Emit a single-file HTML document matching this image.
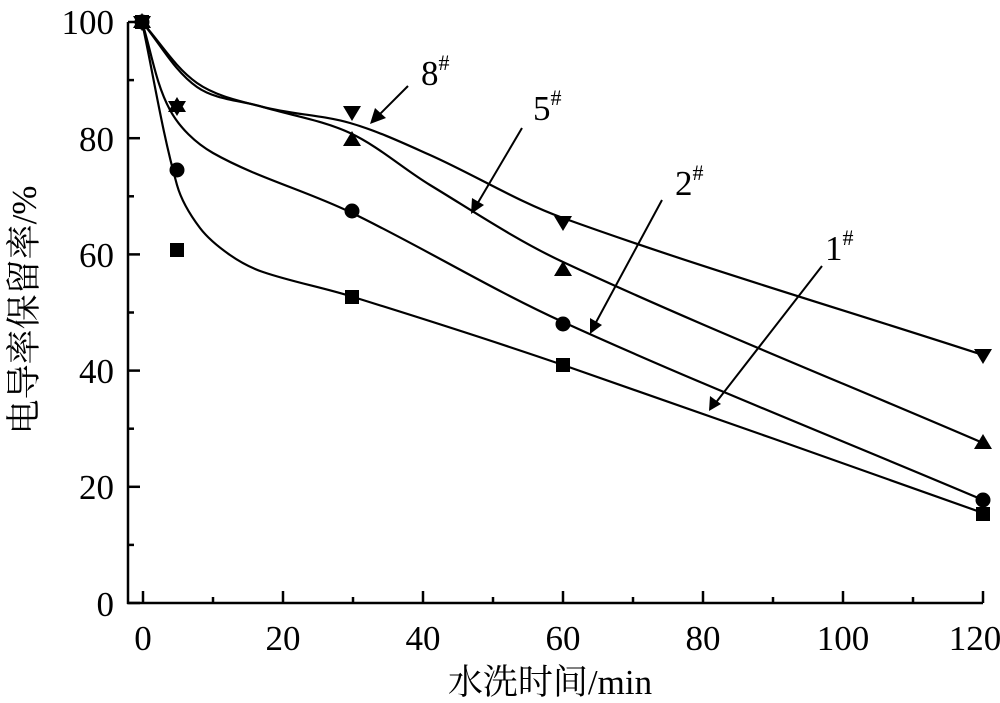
<!DOCTYPE html>
<html><head><meta charset="utf-8"><style>
html,body{margin:0;padding:0;background:#fff;}
svg{display:block;}
text{font-family:"Liberation Serif","Noto Serif CJK SC",serif;fill:#000;}
</style></head><body>
<svg id="s" width="1000" height="703" viewBox="0 0 1000 703" xmlns="http://www.w3.org/2000/svg">
<g stroke="#000" stroke-width="2.5" fill="none">
<line x1="128" y1="22" x2="128" y2="604"/>
<line x1="127" y1="603" x2="983" y2="603"/>
</g>
<g id="ticks" stroke="#000" stroke-width="2.5"></g>
<g font-size="35" text-anchor="end">
<text x="114" y="34">100</text><text x="114" y="151">80</text><text x="114" y="267">60</text>
<text x="114" y="383">40</text><text x="114" y="499">20</text><text x="114" y="616">0</text>
</g>
<g font-size="35" text-anchor="middle">
<text x="143" y="650">0</text><text x="283" y="650">20</text><text x="423" y="650">40</text>
<text x="563" y="650">60</text><text x="703" y="650">80</text><text x="843" y="650">100</text><text x="975" y="650">120</text>
</g>
<text x="550" y="694" font-size="35" text-anchor="middle">水洗时间/min</text>
<text transform="translate(36,310) rotate(-90)" font-size="35" text-anchor="middle">电导率保留率/%</text>
<g id="curves" stroke="#000" stroke-width="2.2" fill="none"></g>
<g fill="#000">
<rect x="135" y="15" width="14" height="14"/><rect x="170" y="243" width="14" height="14"/>
<rect x="345" y="290" width="14" height="14"/><rect x="556" y="358" width="14" height="14"/><rect x="976" y="507" width="14" height="14"/>
<circle cx="142" cy="22" r="7.5"/><circle cx="177" cy="170" r="7.5"/><circle cx="352" cy="211" r="7.5"/>
<circle cx="563" cy="324" r="7.5"/><circle cx="983" cy="500" r="7.5"/>
<polygon points="142,13 151,28 133,28"/><polygon points="177,97 186,112 168,112"/><polygon points="352,131 361,146 343,146"/>
<polygon points="563,261 572,276 554,276"/><polygon points="983,434 992,449 974,449"/>
<polygon points="133,16 151,16 142,31"/><polygon points="168,101 186,101 177,116"/><polygon points="343,106 361,106 352,121"/>
<polygon points="554,216 572,216 563,231"/><polygon points="974,349 992,349 983,364"/>
</g>
<g stroke="#000" stroke-width="2">
<line x1="408" y1="86" x2="378" y2="116"/><line x1="522" y1="128" x2="476" y2="206"/>
<line x1="662" y1="200" x2="594" y2="326"/><line x1="822" y1="266" x2="714" y2="405"/>
</g>
<g fill="#000">
<polygon points="370,124 375,108 386,118"/>
<polygon points="471,214 472,198 484,205"/>
<polygon points="590,334 590,318 602,325"/>
<polygon points="709,411 710,396 721,404"/>
</g>
<g font-size="35">
<text x="421" y="85">8<tspan font-size="22" dy="-15">#</tspan></text>
<text x="533" y="120">5<tspan font-size="22" dy="-15">#</tspan></text>
<text x="675" y="195">2<tspan font-size="22" dy="-15">#</tspan></text>
<text x="825" y="260">1<tspan font-size="22" dy="-15">#</tspan></text>
</g>
</svg>
<script>
var NS="http://www.w3.org/2000/svg";
var t=document.getElementById("ticks");
function ln(x1,y1,x2,y2){var l=document.createElementNS(NS,"line");l.setAttribute("x1",x1);l.setAttribute("y1",y1);l.setAttribute("x2",x2);l.setAttribute("y2",y2);t.appendChild(l);}
for(var i=0;i<=12;i++){var x=143+70*i;ln(x,603,x,i%2==0?591:597);}
for(var j=0;j<=10;j++){var y=603-58.1*j;ln(128,y,j%2==0?140:134,y);}
var C=[
[[142,22],[177,185],[200,228],[230,255],[263,272],[350,296],[563,365],[983,513]],
[[142,22],[170,110],[213,153],[350,212],[563,322],[983,500]],
[[142,22],[197,87],[263,107],[350,133],[430,185],[563,262],[983,443]],
[[142,22],[197,83],[263,107],[350,123],[430,155],[563,218],[983,355]]];
var g=document.getElementById("curves");
C.forEach(function(p){var d="M"+p[0][0]+","+p[0][1];
for(var i=0;i<p.length-1;i++){var p0=p[i-1]||p[i],p1=p[i],p2=p[i+1],p3=p[i+2]||p2;
var d1=Math.hypot(p2[0]-p1[0],p2[1]-p1[1]);
var a=d1/Math.hypot(p2[0]-p0[0],p2[1]-p0[1]||1)/2, b=d1/Math.hypot(p3[0]-p1[0],p3[1]-p1[1]||1)/2;
if(!isFinite(a))a=0;if(!isFinite(b))b=0;
var c1x=p1[0]+(p2[0]-p0[0])*a*0.66,c1y=p1[1]+(p2[1]-p0[1])*a*0.66,c2x=p2[0]-(p3[0]-p1[0])*b*0.66,c2y=p2[1]-(p3[1]-p1[1])*b*0.66;
d+=" C"+c1x+","+c1y+" "+c2x+","+c2y+" "+p2[0]+","+p2[1];}
var e=document.createElementNS(NS,"path");e.setAttribute("d",d);g.appendChild(e);});
</script>
</body></html>
